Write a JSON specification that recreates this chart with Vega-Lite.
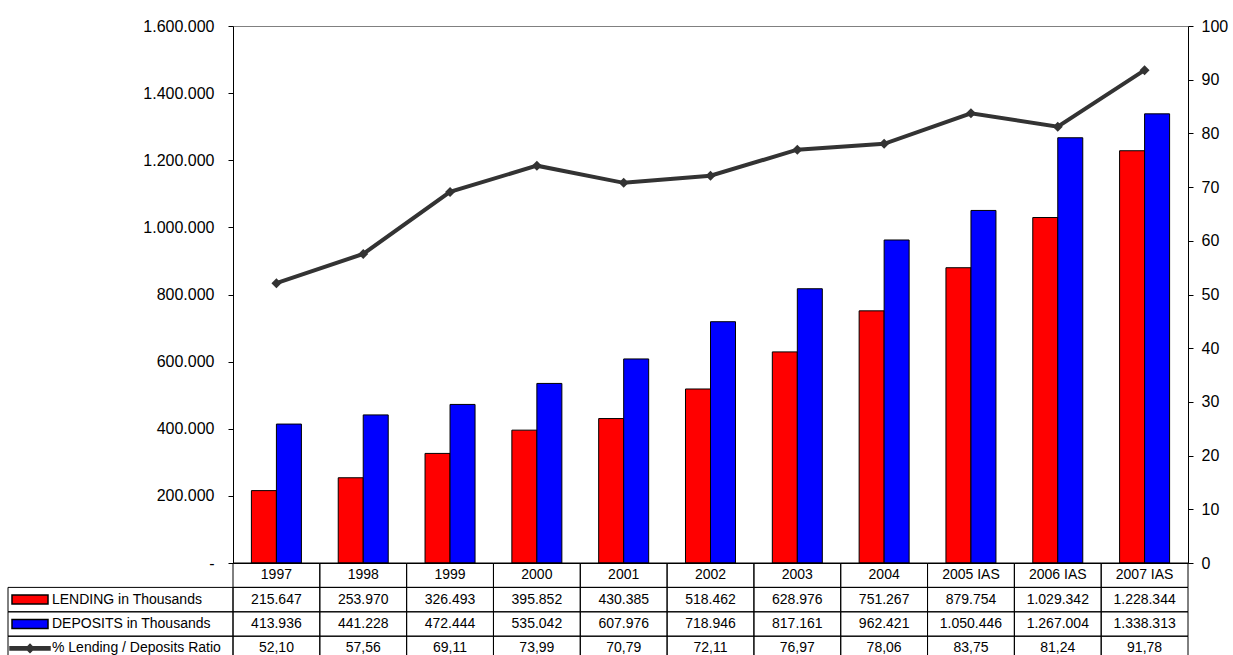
{
  "$schema": "https://vega.github.io/schema/vega-lite/v6.json",
  "width": 955,
  "height": 537,
  "autosize": {"type": "none"},
  "padding": {"left": 233, "top": 26, "right": 45, "bottom": 92},
  "background": "white",
  "config": {
    "locale": {"number": {"decimal": ",", "thousands": ".", "grouping": [3], "currency": ["", "€"]}},
    "view": {"stroke": null},
    "font": "Liberation Sans",
    "text": {"font": "Liberation Sans", "fontSize": 14, "color": "black"},
    "axis": {"labelFont": "Liberation Sans", "labelColor": "black", "grid": false}
  },
  "datasets": {
    "main": [
      {"year": "1997", "lending": 215647, "deposits": 413936, "ratio": 52.10},
      {"year": "1998", "lending": 253970, "deposits": 441228, "ratio": 57.56},
      {"year": "1999", "lending": 326493, "deposits": 472444, "ratio": 69.11},
      {"year": "2000", "lending": 395852, "deposits": 535042, "ratio": 73.99},
      {"year": "2001", "lending": 430385, "deposits": 607976, "ratio": 70.79},
      {"year": "2002", "lending": 518462, "deposits": 718946, "ratio": 72.11},
      {"year": "2003", "lending": 628976, "deposits": 817161, "ratio": 76.97},
      {"year": "2004", "lending": 751267, "deposits": 962421, "ratio": 78.06},
      {"year": "2005 IAS", "lending": 879754, "deposits": 1050446, "ratio": 83.75},
      {"year": "2006 IAS", "lending": 1029342, "deposits": 1267004, "ratio": 81.24},
      {"year": "2007 IAS", "lending": 1228344, "deposits": 1338313, "ratio": 91.78}
    ],
    "legend": [
      {"key": "lending", "label": "LENDING in Thousands"},
      {"key": "deposits", "label": "DEPOSITS in Thousands"},
      {"key": "ratio", "label": "% Lending / Deposits Ratio"}
    ]
  },
  "layer": [
    {
      "data": {"name": "main"},
      "transform": [{"fold": ["lending", "deposits"], "as": ["series", "amount"]}],
      "mark": {"type": "bar", "stroke": "black", "strokeWidth": 1},
      "encoding": {
        "x": {"field": "year", "type": "nominal", "sort": null,
              "scale": {"paddingInner": 0.424, "paddingOuter": 0.212},
              "axis": {"title": null, "labels": false, "ticks": false, "domain": true, "domainColor": "black", "domainWidth": 1}},
        "xOffset": {"field": "series", "type": "nominal", "scale": {"domain": ["lending", "deposits"], "paddingInner": 0, "paddingOuter": 0}},
        "y": {"field": "amount", "type": "quantitative",
              "scale": {"domain": [0, 1600000], "nice": false},
              "axis": {"orient": "left", "title": null, "values": [0, 200000, 400000, 600000, 800000, 1000000, 1200000, 1400000, 1600000],
                       "format": ",.0f", "labelExpr": "datum.value == 0 ? '-' : datum.label",
                       "labelFontSize": 16, "labelPadding": 14, "tickSize": 5, "tickColor": "black", "domainColor": "black", "domainWidth": 1}},
        "fill": {"field": "series", "type": "nominal", "scale": {"domain": ["lending", "deposits"], "range": ["#ff0000", "#0000ff"]}, "legend": null}
      }
    },
    {
      "data": {"name": "main"},
      "mark": {"type": "line", "color": "#333333", "strokeWidth": 4},
      "encoding": {
        "x": {"field": "year", "type": "nominal", "sort": null,
              "scale": {"paddingInner": 0, "paddingOuter": 0},
              "axis": {"orient": "top", "title": null, "labels": false, "ticks": false, "domain": true, "domainColor": "#808080", "domainWidth": 1}},
        "y": {"field": "ratio", "type": "quantitative",
              "scale": {"domain": [0, 100], "nice": false},
              "axis": {"orient": "right", "title": null, "values": [0, 10, 20, 30, 40, 50, 60, 70, 80, 90, 100],
                       "labelFontSize": 16, "labelPadding": 8, "tickSize": 5, "tickColor": "black", "domainColor": "black", "domainWidth": 1}}
      }
    },
    {
      "data": {"name": "main"},
      "mark": {"type": "point", "shape": "diamond", "filled": true, "size": 100, "color": "#333333", "opacity": 1},
      "encoding": {
        "x": {"field": "year", "type": "nominal", "sort": null, "scale": {"paddingInner": 0, "paddingOuter": 0}, "axis": null},
        "y": {"field": "ratio", "type": "quantitative", "scale": {"domain": [0, 100], "nice": false}, "axis": null}
      }
    },
    {
      "data": {"name": "main"},
      "transform": [{"fold": ["year", "lending", "deposits", "ratio"], "as": ["row", "cell"]}],
      "mark": {"type": "rect", "fill": "white", "fillOpacity": 0, "stroke": "black", "strokeWidth": 1},
      "encoding": {
        "x": {"field": "year", "type": "nominal", "sort": null, "scale": {"type": "band", "paddingInner": 0, "paddingOuter": 0}, "axis": null},
        "y": {"field": "row", "type": "nominal", "scale": {"type": "band", "domain": ["year", "lending", "deposits", "ratio"], "range": [537, 634.6], "paddingInner": 0, "paddingOuter": 0}, "axis": null}
      }
    },
    {
      "data": {"name": "main"},
      "mark": {"type": "text", "baseline": "middle", "align": "center"},
      "encoding": {
        "x": {"field": "year", "type": "nominal", "sort": null, "scale": {"type": "band", "paddingInner": 0, "paddingOuter": 0}, "axis": null},
        "y": {"datum": "year", "type": "nominal", "scale": {"type": "band", "domain": ["year", "lending", "deposits", "ratio"], "range": [537, 634.6], "paddingInner": 0, "paddingOuter": 0}, "axis": null},
        "text": {"field": "year", "type": "nominal"}
      }
    },
    {
      "data": {"name": "main"},
      "transform": [{"fold": ["lending", "deposits"], "as": ["row", "amount"]}],
      "mark": {"type": "text", "baseline": "middle", "align": "center"},
      "encoding": {
        "x": {"field": "year", "type": "nominal", "sort": null, "scale": {"type": "band", "paddingInner": 0, "paddingOuter": 0}, "axis": null},
        "y": {"field": "row", "type": "nominal", "scale": {"type": "band", "domain": ["year", "lending", "deposits", "ratio"], "range": [537, 634.6], "paddingInner": 0, "paddingOuter": 0}, "axis": null},
        "text": {"field": "amount", "type": "quantitative", "format": ",.0f"}
      }
    },
    {
      "data": {"name": "main"},
      "mark": {"type": "text", "baseline": "middle", "align": "center"},
      "encoding": {
        "x": {"field": "year", "type": "nominal", "sort": null, "scale": {"type": "band", "paddingInner": 0, "paddingOuter": 0}, "axis": null},
        "y": {"datum": "ratio", "type": "nominal", "scale": {"type": "band", "domain": ["year", "lending", "deposits", "ratio"], "range": [537, 634.6], "paddingInner": 0, "paddingOuter": 0}, "axis": null},
        "text": {"field": "ratio", "type": "quantitative", "format": ".2f"}
      }
    },
    {
      "data": {"name": "legend"},
      "mark": {"type": "rect", "fill": "white", "fillOpacity": 0, "stroke": "black", "strokeWidth": 1},
      "encoding": {
        "x": {"datum": "h", "type": "nominal", "scale": {"type": "band", "domain": ["h"], "range": [-225, 0], "paddingInner": 0, "paddingOuter": 0}, "axis": null},
        "y": {"field": "key", "type": "nominal", "scale": {"type": "band", "domain": ["year", "lending", "deposits", "ratio"], "range": [537, 634.6], "paddingInner": 0, "paddingOuter": 0}, "axis": null}
      }
    },
    {
      "data": {"name": "legend"},
      "mark": {"type": "point", "filled": true, "size": 1600, "strokeWidth": 1.5, "opacity": 1},
      "encoding": {
        "x": {"datum": "sw", "type": "nominal", "scale": {"type": "point", "domain": ["sw", "lb"], "range": [-203, -181], "padding": 0}, "axis": null},
        "y": {"field": "key", "type": "nominal", "scale": {"type": "band", "domain": ["year", "lending", "deposits", "ratio"], "range": [537, 634.6], "paddingInner": 0, "paddingOuter": 0}, "axis": null},
        "shape": {"field": "key", "type": "nominal", "scale": {"domain": ["lending", "deposits", "ratio"], "range": ["M-0.9,-0.225H0.9V0.225H-0.9Z", "M-0.9,-0.225H0.9V0.225H-0.9Z", "M-1,-0.08H1V0.08H-1Z M0,-0.2L0.2,0L0,0.2L-0.2,0Z"]}, "legend": null},
        "fill": {"field": "key", "type": "nominal", "scale": {"domain": ["lending", "deposits", "ratio"], "range": ["#ff0000", "#0000ff", "#333333"]}, "legend": null},
        "stroke": {"field": "key", "type": "nominal", "scale": {"domain": ["lending", "deposits", "ratio"], "range": ["#000000", "#000000", "#333333"]}, "legend": null}
      }
    },
    {
      "data": {"name": "legend"},
      "mark": {"type": "text", "baseline": "middle", "align": "left"},
      "encoding": {
        "x": {"datum": "lb", "type": "nominal", "scale": {"type": "point", "domain": ["sw", "lb"], "range": [-203, -181], "padding": 0}, "axis": null},
        "y": {"field": "key", "type": "nominal", "scale": {"type": "band", "domain": ["year", "lending", "deposits", "ratio"], "range": [537, 634.6], "paddingInner": 0, "paddingOuter": 0}, "axis": null},
        "text": {"field": "label", "type": "nominal"}
      }
    }
  ],
  "resolve": {"scale": {"x": "independent", "y": "independent", "fill": "independent", "shape": "independent", "stroke": "independent"}}
}
